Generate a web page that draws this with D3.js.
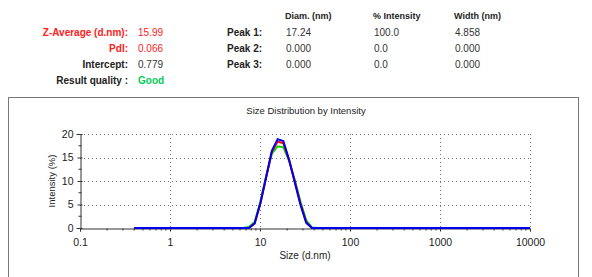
<!DOCTYPE html>
<html>
<head>
<meta charset="utf-8">
<style>
body { margin:0; background:#fff; }
svg { display:block; font-family:"Liberation Sans", Arial, sans-serif; }
</style>
</head>
<body>
<svg width="592" height="277"></svg>
<script src="https://d3js.org/d3.v7.min.js"></script>
<script>
// size bins (d.nm)
var sizes = [0.4,0.4632,0.5365,0.6213,0.7195,0.8332,0.9649,1.117,1.294,1.499,
  1.736,2.01,2.328,2.696,3.122,3.615,4.187,4.849,5.615,6.503,
  7.531,8.721,10.1,11.7,13.54,15.69,18.17,21.04,24.36,28.21,
  32.67,37.84,43.82,50.75,58.77,68.06,78.82,91.28,105.7,122.4,
  141.8,164.2,190.1,220.2,255,295.3,342,396.1,458.7,531.2,
  615.1,712.4,825,955.4,1106,1281,1484,1718,1990,2305,
  2669,3091,3580,4145,4801,5560,6439,7456,8635,10000];

var run1 = [0,0,0,0,0,0,0,0,0,0, 0,0,0,0,0,0,0,0,0,0,
  0,0.9,5.2,10.8,16.2,18.4,18.0,14.5,9.9,5.1,
  1.2,0,0,0,0,0,0,0,0,0, 0,0,0,0,0,0,0,0,0,0,
  0,0,0,0,0,0,0,0,0,0, 0,0,0,0,0,0,0,0,0,0];
var run2 = [0,0,0,0,0,0,0,0,0,0, 0,0,0,0,0,0,0,0,0,0,
  0.2,1.3,5.6,11.0,15.8,17.4,17.2,14.3,10.2,5.6,
  1.6,0.1,0,0,0,0,0,0,0,0, 0,0,0,0,0,0,0,0,0,0,
  0,0,0,0,0,0,0,0,0,0, 0,0,0,0,0,0,0,0,0,0];
var run3 = [0,0,0,0,0,0,0,0,0,0, 0,0,0,0,0,0,0,0,0,0,
  0,1.0,5.3,10.8,16.4,18.9,18.5,14.5,9.7,4.9,
  1.1,0,0,0,0,0,0,0,0,0, 0,0,0,0,0,0,0,0,0,0,
  0,0,0,0,0,0,0,0,0,0, 0,0,0,0,0,0,0,0,0,0];

var xTicks = [0.1,1,10,100,1000,10000];
var yTicks = [0,5,10,15,20];

var resLabels = ["Z-Average (d.nm):","PdI:","Intercept:","Result quality :"];
var resValues = ["15.99","0.066","0.779","Good"];
var peakLabels = ["Peak 1:","Peak 2:","Peak 3:"];
var colHeads = ["Diam. (nm)","% Intensity","Width (nm)"];
var peakDiam = ["17.24","0.000","0.000"];
var peakInt = ["100.0","0.0","0.0"];
var peakWidth = ["4.858","0.000","0.000"];

var svg = d3.select("svg");

// results block
var resColor = ["#ff2020","#ff2020","#222","#222"];
var valColor = ["#ff2020","#ff2020","#333","#00cc55"];
resLabels.forEach(function(t,i){
  svg.append("text").attr("x",128).attr("y",36+i*16).attr("text-anchor","end")
    .attr("font-size",10).attr("font-weight","bold").attr("fill",resColor[i]).text(t);
  svg.append("text").attr("x",138).attr("y",36+i*16)
    .attr("font-size",10).attr("font-weight",i==3?"bold":"normal").attr("fill",valColor[i]).text(resValues[i]);
});
var colX = [285,373,454];
colHeads.forEach(function(t,i){
  svg.append("text").attr("x",colX[i]).attr("y",19).attr("font-size",9)
    .attr("font-weight","bold").attr("fill","#222").text(t);
});
peakLabels.forEach(function(t,i){
  var y = 36+i*16;
  svg.append("text").attr("x",227).attr("y",y).attr("font-size",10)
    .attr("font-weight","bold").attr("fill","#222").text(t);
  [peakDiam,peakInt,peakWidth].forEach(function(arr,j){
    svg.append("text").attr("x",colX[j]+1).attr("y",y).attr("font-size",10)
      .attr("fill","#333").text(arr[i]);
  });
});

// chart frame
svg.append("rect").attr("x",8.5).attr("y",97.5).attr("width",570).attr("height",190)
  .attr("fill","none").attr("stroke","#777").attr("stroke-width",1);

svg.append("text").attr("x",306).attr("y",114).attr("text-anchor","middle")
  .attr("font-size",9.5).attr("fill","#222").text("Size Distribution by Intensity");

var x = d3.scaleLog().domain([0.1,10000]).range([80,530]);
var y = d3.scaleLinear().domain([0,20]).range([228,134]);

// grid
var g = svg.append("g");
g.selectAll(".gx").data(xTicks.slice(1)).enter().append("line")
  .attr("x1",function(d){return Math.round(x(d))+0.5;}).attr("x2",function(d){return Math.round(x(d))+0.5;})
  .attr("y1",y(20)).attr("y2",y(0))
  .attr("stroke","#777").attr("stroke-dasharray","1,3");
g.selectAll(".gy").data(yTicks.slice(1)).enter().append("line")
  .attr("x1",x(0.1)).attr("x2",x(10000))
  .attr("y1",function(d){return Math.round(y(d))+0.5;}).attr("y2",function(d){return Math.round(y(d))+0.5;})
  .attr("stroke","#777").attr("stroke-dasharray","1,3");

// axes
var xAxis = d3.axisBottom(x).tickValues(xTicks).tickFormat(d3.format("")).tickSize(3);
var gx = svg.append("g").attr("transform","translate(0,"+(y(0)+0.5)+")").call(xAxis);
var minorX = [];
xTicks.slice(0,-1).forEach(function(d){ for(var k=2;k<10;k++) minorX.push(d*k); });
gx.selectAll(".minor").data(minorX).enter().append("line")
  .attr("x1",function(d){return x(d);}).attr("x2",function(d){return x(d);})
  .attr("y1",0).attr("y2",2).attr("stroke","#333");

var yAxis = d3.axisLeft(y).tickValues(yTicks).tickSize(4);
var gy = svg.append("g").attr("transform","translate("+(x(0.1)+0.5)+",0)").call(yAxis);
gy.selectAll(".tick line").attr("x2",-3).attr("x1",2);
gy.selectAll(".minor").data([2.5,7.5,12.5,17.5]).enter().append("line")
  .attr("x1",-2).attr("x2",1).attr("y1",function(d){return y(d);}).attr("y2",function(d){return y(d);})
  .attr("stroke","#333");

[gx,gy].forEach(function(a){
  a.select(".domain").attr("stroke","#333");
  a.selectAll(".tick line").attr("stroke","#333");
  a.selectAll("text").attr("font-size",10.5).attr("fill","#222")
    .attr("font-family","Liberation Sans, Arial, sans-serif");
});
gx.selectAll("text").attr("dy","1.1em");

svg.append("text").attr("x",305).attr("y",259).attr("text-anchor","middle")
  .attr("font-size",10).attr("fill","#222").text("Size (d.nm)");
svg.append("text").attr("transform","translate(55,181) rotate(-90)").attr("text-anchor","middle")
  .attr("font-size",9.5).attr("fill","#222").text("Intensity (%)");

// curves
var line = d3.line().x(function(d){return x(d[0]);}).y(function(d){return y(d[1]);});
[[run2,"#00dd00"],[run1,"#ff0000"],[run3,"#0000ee"]].forEach(function(s){
  svg.append("path").datum(sizes.map(function(v,i){return [v,s[0][i]];}))
    .attr("d",line).attr("fill","none").attr("stroke",s[1]).attr("stroke-width",2);
});
</script>
</body>
</html>
